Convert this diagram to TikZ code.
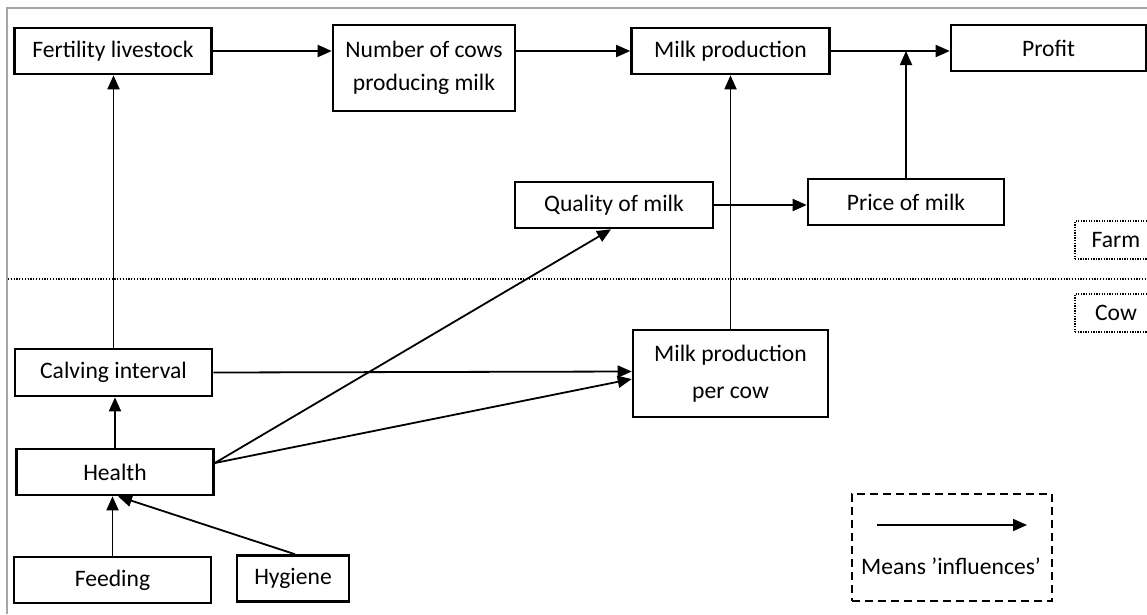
\documentclass[tikz,border=0pt]{standalone}
\usepackage{fontspec}
\setmainfont{Carlito}
\usetikzlibrary{arrows.meta,calc}
\begin{document}
\begin{tikzpicture}[x=1pt,y=-1pt,
  box/.style={draw,line width=2.6pt,rectangle,inner sep=0pt,align=center,
    font=\fontsize{23.6}{33}\selectfont},
  infl/.style={line width=1.8pt,-{Triangle[length=14pt,width=12pt]}},
  level/.style={draw,line width=1.2pt,dash pattern=on 1.3pt off 1.3pt,
    inner sep=0pt,font=\fontsize{23.6}{28}\selectfont},
  legendbox/.style={draw,line width=1.8pt,dash pattern=on 8pt off 5pt,
    inner sep=0pt},
]
\useasboundingbox (0,0) rectangle (1147,614);

% outer frame
\draw[gray!70,line width=1.2pt] (7,614) -- (7,8) -- (1147,8);

% farm / cow separator
\draw[line width=1.2pt,dash pattern=on 1.2pt off 1.6pt] (8,279) -- (1147,279);
\node[level,minimum width=82pt,minimum height=38pt] (farm) at (1116,240) {Farm};
\node[level,minimum width=82pt,minimum height=38pt] (cow) at (1116,313) {Cow};

% farm level
\node[box,minimum width=197pt,minimum height=46pt] (fert) at (113,51) {Fertility livestock};
\node[box,minimum width=182pt,minimum height=86pt] (num) at (424,68) {Number of cows\\producing milk};
\node[box,minimum width=198pt,minimum height=46pt] (milk) at (730.5,51) {Milk production};
\node[box,minimum width=195pt,minimum height=46pt] (profit) at (1048.5,48) {Profit};
\node[box,minimum width=198pt,minimum height=46pt] (quality) at (614,205) {Quality of milk};
\node[box,minimum width=196pt,minimum height=46pt] (price) at (906,202) {Price of milk};

% cow level
\node[box,minimum width=197pt,minimum height=47pt] (calving) at (113.5,372.5) {Calving interval};
\node[box,minimum width=195pt,minimum height=87pt,font=\fontsize{23.6}{37}\selectfont] (mppc) at (730.5,373.5) {Milk production\\per cow};
\node[box,minimum width=197pt,minimum height=46pt] (health) at (115,472) {Health};
\node[box,minimum width=197pt,minimum height=46pt] (feeding) at (112.5,580) {Feeding};
\node[box,minimum width=112pt,minimum height=46pt] (hygiene) at (293,578.5) {Hygiene};

% influences
\draw[infl] (fert.east) -- (fert.east -| num.west);
\draw[infl] (num.east |- milk.west) -- (milk.west);
\draw[infl] (milk.east) -- (milk.east -| profit.west);
\draw[infl] (price.north) -- (price.north |- milk.east);
\draw[infl] (quality.east) -- (quality.east -| price.west);
\draw[infl] (mppc.north) -- (milk.south);
\draw[infl] (calving.north) -- (calving.north |- fert.south);
\draw[infl] (calving.east) -- ([yshift=2pt]mppc.west);
\coordinate (hout) at ([yshift=9pt]health.east);
\draw[infl] (hout) -- ([xshift=-3pt]quality.south);
\draw[infl] (hout) -- ([yshift=-5.5pt]mppc.west);
\draw[infl] (health.north) -- (health.north |- calving.south);
\draw[infl] (feeding.north) -- (feeding.north |- health.south);
\draw[infl] ([xshift=2pt]hygiene.north) -- ([xshift=3pt]health.south);

% legend
\node[legendbox,minimum width=200pt,minimum height=107pt] (legend) at (952,547.5) {};
\coordinate (la) at (877,525);
\coordinate (lb) at (1027,525);
\draw[infl] (la) -- (lb);
\node[font=\fontsize{23.6}{28}\selectfont,inner sep=0pt] (legtext) at (951,566) {Means ’influences’};
\end{tikzpicture}
\end{document}
